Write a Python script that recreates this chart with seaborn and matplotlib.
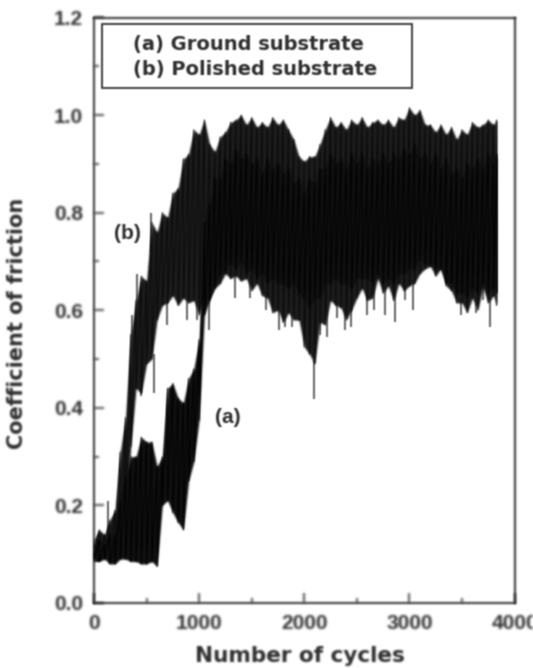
import numpy as np
import pandas as pd
import matplotlib
matplotlib.use("Agg")
import matplotlib.pyplot as plt
from matplotlib.patches import Rectangle
from matplotlib.ticker import MultipleLocator
import seaborn as sns

# ─── DATA ────────────────────────────────────────────────────────────────────
cycles = [0, 50, 100, 150, 200, 250, 300, 350, 400, 450, 500, 550, 600, 650, 700, 750,
          800, 850, 900, 950, 1000, 1050, 1100, 1150, 1200, 1250, 1300, 1350, 1400, 1450,
          1500, 1550, 1600, 1650, 1700, 1750, 1800, 1850, 1900, 1950, 2000, 2050, 2100,
          2150, 2200, 2250, 2300, 2350, 2400, 2450, 2500, 2550, 2600, 2650, 2700, 2750,
          2800, 2850, 2900, 2950, 3000, 3050, 3100, 3150, 3200, 3250, 3300, 3350, 3400,
          3450, 3500, 3550, 3600, 3650, 3700, 3750, 3800, 3830]

# (b) polished substrate, top and bottom of the friction band
polished_hi = [.13, .15, .14, .17, .19, .31, .38, .55, .62, .67, .66, .78, .76, .80, .79, .84,
               .85, .91, .92, .97, .96, .99, .94, .925, .955, .965, .985, .99, 1.0, .98,
               .995, .975, .985, .975, .995, .98, .99, .97, .95, .915, .905, .915, .915,
               .94, .97, .995, .975, .985, .97, .99, .98, .995, .975, .985, .99, .98,
               .99, .975, .995, .99, 1.015, 1.0, 1.01, .98, .98, .965, .98, .96, .975,
               .95, .97, .96, .985, .975, .98, .99, .98, .99]
polished_lo = [.09, .09, .10, .10, .10, .11, .17, .32, .44, .43, .49, .50, .58, .61, .615, .63,
               .61, .625, .615, .62, .59, .625, .625, .645, .655, .675, .665, .67, .66, .665,
               .64, .655, .63, .625, .595, .60, .575, .595, .58, .58, .525, .51, .49,
               .575, .57, .62, .61, .605, .58, .60, .625, .645, .62, .625, .665, .635,
               .65, .62, .655, .64, .65, .655, .675, .685, .69, .67, .685, .65, .64,
               .615, .615, .595, .625, .60, .645, .615, .63, .61]

# (a) ground substrate
ground_hi = [.12, .13, .12, .14, .14, .21, .26, .30, .30, .34, .33, .33, .28, .30, .44, .45,
             .42, .41, .46, .48, .54, .78, .82, .87, .87, .91, .90, .93, .91, .92,
             .90, .91, .88, .91, .89, .90, .88, .89, .86, .87, .84, .87, .86,
             .89, .89, .92, .90, .91, .89, .92, .90, .92, .89, .91, .90, .92,
             .90, .92, .91, .93, .92, .94, .91, .92, .90, .92, .89, .91, .88,
             .89, .87, .90, .89, .91, .89, .92, .90, .92]
ground_lo = [.085, .085, .09, .08, .08, .09, .09, .085, .085, .08, .08, .085, .075, .20, .21, .185,
             .165, .15, .25, .29, .375, .59, .62, .65, .675, .68, .695, .685, .70, .675,
             .685, .665, .675, .655, .665, .655, .655, .645, .655, .635, .625, .605, .625,
             .625, .655, .655, .665, .655, .655, .645, .665, .665, .665, .655, .675, .655,
             .665, .655, .675, .675, .685, .685, .705, .695, .695, .685, .685, .655, .655,
             .635, .635, .625, .645, .635, .655, .635, .645, .635]

# single excursions sticking out of the band
spike_down_x = [450, 575, 690, 880, 980, 1090, 1340, 1480, 1640, 1760, 1820, 1880, 1960, 2090,
                2150, 2220, 2310, 2390, 2445, 2600, 2660, 2770, 2865, 2960, 3035, 3490, 3635,
                3700, 3765]
spike_down_y = [.425, .43, .57, .58, .58, .56, .625, .625, .60, .56, .565, .565, .58, .418,
                .55, .545, .585, .56, .565, .59, .60, .59, .575, .62, .60, .59, .595,
                .62, .565]
spike_up_x = [130, 365, 410, 545]
spike_up_y = [.21, .59, .675, .80]

legend_lines = ["(a) Ground substrate", "(b) Polished substrate"]

# ─── STYLE ───────────────────────────────────────────────────────────────────
sns.set_theme(style="ticks")
INK = "#2f2f2f"
plt.rcParams["font.family"] = ["Liberation Sans", "DejaVu Sans"]
plt.rcParams["font.weight"] = "bold"

fig = plt.figure(figsize=(5.33, 6.68), dpi=100)
ax = fig.add_axes([94 / 533, 1 - 603 / 668, 420.5 / 533, 585.5 / 668])


def blur(arr):
    kernel = np.array([1, 2, 1]) / 4
    for axis in (0, 1):
        arr = np.apply_along_axis(lambda v: np.convolve(v, kernel, mode="same"), axis, arr)
    return arr


def soften(img, dpi):
    # the source is a blurry scan, so every mark gets a small blur
    # (weighted by alpha, the empty pixels of the filter buffer are white)
    pad = 3
    img = np.pad(img, ((pad, pad), (pad, pad), (0, 0)))
    alpha = blur(img[..., 3])
    rgb = blur(img[..., :3] * img[..., 3:]) / np.maximum(alpha[..., None], 1e-3)
    out = np.dstack([np.clip(rgb, 0, 1), alpha])
    return out, -pad, -pad


def draw_band(x, hi, lo, fill, line_colour):
    ax.fill_between(x, lo, hi, color=fill, lw=0, zorder=3)
    zigzag = pd.DataFrame({"cycle": np.repeat(x, 2),
                           "cof": np.column_stack([hi, lo]).ravel()})
    sns.lineplot(data=zigzag, x="cycle", y="cof", sort=False, estimator=None,
                 color=line_colour, lw=0.7, zorder=3, ax=ax)


ax.vlines(spike_down_x, spike_down_y, np.array(spike_down_y) + 0.08, color="#555555", lw=1.3, zorder=2)
ax.vlines(spike_up_x, np.array(spike_up_y) - 0.08, spike_up_y, color="#555555", lw=1.3, zorder=2)

draw_band(cycles, polished_hi, polished_lo, "#1c1c1c", "#0a0a0a")
draw_band(cycles, ground_hi, ground_lo, "#101010", "#000000")

# ─── AXES ────────────────────────────────────────────────────────────────────
ax.set_xlim(0, 4000)
ax.set_ylim(0, 1.2)
ax.xaxis.set_major_locator(MultipleLocator(1000))
ax.xaxis.set_minor_locator(MultipleLocator(500))
ax.yaxis.set_major_locator(MultipleLocator(0.2))
ax.yaxis.set_minor_locator(MultipleLocator(0.1))
ax.tick_params(which="major", direction="in", length=7, width=1.2, color=INK,
               labelcolor=INK, labelsize=15, pad=8)
ax.tick_params(which="minor", direction="in", length=3.5, width=1.2, color=INK)
for spine in ax.spines.values():
    spine.set_linewidth(1.4)
    spine.set_color(INK)

ax.set_xlabel("Number of cycles", family="DejaVu Sans", fontsize=15.5, fontweight="bold", color=INK)
ax.set_ylabel("Coefficient of friction", family="DejaVu Sans", fontsize=15, fontweight="bold", color=INK)
ax.xaxis.set_label_coords(0.49, -0.074)
ax.yaxis.set_label_coords(-0.159, 0.478)

# legend box and curve labels
ax.add_patch(Rectangle((0.019, 0.88), 0.737, 0.109, transform=ax.transAxes,
                       fill=False, ec=INK, lw=1.3))
ax.text(0.093, 0.954, legend_lines[0], transform=ax.transAxes, va="center",
        family="DejaVu Sans", fontsize=14, fontweight="bold", color=INK)
ax.text(0.093, 0.911, legend_lines[1], transform=ax.transAxes, va="center",
        family="DejaVu Sans", fontsize=14, fontweight="bold", color=INK)
ax.text(319, 0.758, "(b)", ha="center", va="center", fontsize=15, fontweight="bold", color=INK)
ax.text(1270, 0.38, "(a)", ha="center", va="center", fontsize=15, fontweight="bold", color=INK)

for artist in ax.findobj(lambda a: a not in (ax, ax.patch)):
    if hasattr(artist, "draw") and artist.get_visible():
        artist.set_agg_filter(soften)

fig.savefig("out.png", dpi=100)
plt.close(fig)
